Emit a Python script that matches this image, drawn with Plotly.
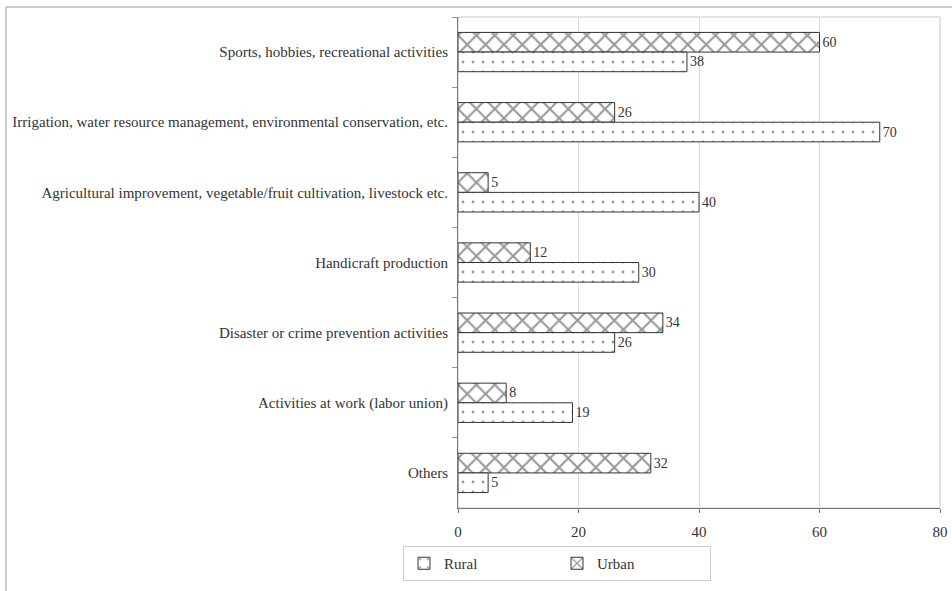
import plotly.graph_objects as go

categories = [
    "Sports, hobbies, recreational activities",
    "Irrigation, water resource management, environmental conservation, etc.",
    "Agricultural improvement, vegetable/fruit cultivation, livestock etc.",
    "Handicraft production",
    "Disaster or crime prevention activities",
    "Activities at work (labor union)",
    "Others",
]
urban = [60, 26, 5, 12, 34, 8, 32]
rural = [38, 70, 40, 30, 26, 19, 5]
x_ticks = [0, 20, 40, 60, 80]

W, H = 952, 591
L, R, T, B = 458, 12, 17, 83
pw, ph = W - L - R, H - T - B

def px_x(p):
    return (p - L) / pw

def px_y(p):
    return (H - B - p) / ph

FONT = "'Liberation Serif', 'Times New Roman', 'DejaVu Serif', serif"
fig = go.Figure()
fig.add_trace(go.Bar(
    y=categories, x=urban, name="Urban", orientation="h",
    marker=dict(color="white", line=dict(color="#333", width=1),
                pattern=dict(shape="x", fgcolor="#333", bgcolor="white", size=13, solidity=0.3)),
    text=urban, textposition="outside", cliponaxis=False,
    textfont=dict(family=FONT, size=14, color="#333"), legendrank=2,
))
fig.add_trace(go.Bar(
    y=categories, x=rural, name="Rural", orientation="h",
    marker=dict(color="white", line=dict(color="#333", width=1),
                pattern=dict(shape=".", fgcolor="#333", bgcolor="white", size=10, solidity=0.06)),
    text=rural, textposition="outside", cliponaxis=False,
    textfont=dict(family=FONT, size=14, color="#333"), legendrank=1,
))

shapes = [
    dict(type="rect", xref="paper", yref="paper", x0=0, x1=1, y0=0, y1=1,
         line=dict(color="#c8c8c8", width=1), layer="below"),
    dict(type="line", xref="paper", yref="paper", x0=px_x(6), x1=px_x(952), y0=px_y(7), y1=px_y(7),
         line=dict(color="#999", width=1)),
    dict(type="line", xref="paper", yref="paper", x0=px_x(6), x1=px_x(6), y0=px_y(7), y1=px_y(591),
         line=dict(color="#999", width=1)),
]

fig.update_layout(
    width=W, height=H, autosize=False,
    margin=dict(l=L, r=R, t=T, b=B, autoexpand=False),
    paper_bgcolor="white", plot_bgcolor="white",
    barmode="group", bargap=0.44, bargroupgap=0,
    font=dict(family=FONT, size=15, color="#333"),
    shapes=shapes,
    showlegend=True,
    legend=dict(orientation="h", x=px_x(557), xanchor="center", y=px_y(546), yanchor="top",
                bordercolor="#ccc", borderwidth=1, font=dict(family=FONT, size=15, color="#333"),
                entrywidth=108, itemwidth=30),
    xaxis=dict(range=[0, 80], tickvals=x_ticks, showgrid=True, gridcolor="#dcdcdc",
               showline=True, linecolor="#777", ticks="outside", ticklen=4, tickcolor="#777",
               zeroline=False, tickfont=dict(size=15), automargin=False, ticklabelstandoff=6),
    yaxis=dict(autorange="reversed", showline=True, linecolor="#777", ticks="outside",
               tickson="boundaries", ticklen=5, tickcolor="#999", tickfont=dict(size=15),
               automargin=False, ticklabelstandoff=6),
)

fig.write_html("out.html", config={"displayModeBar": False, "responsive": False},
               post_script="document.body.style.margin='0';document.body.style.padding='0';document.body.style.overflow='hidden';")
